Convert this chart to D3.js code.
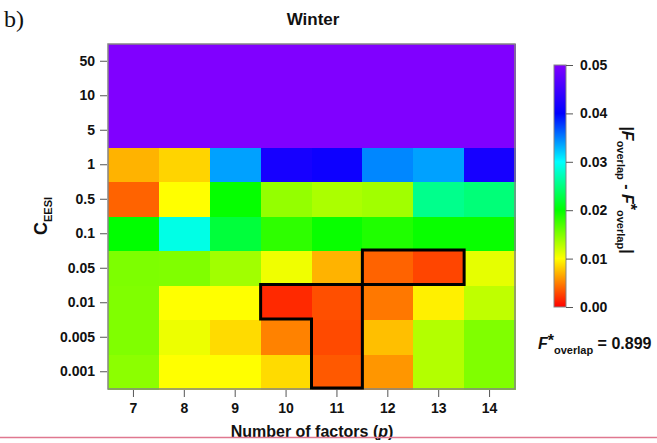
<!DOCTYPE html>
<html>
<head>
<meta charset="utf-8">
<script src="https://cdn.jsdelivr.net/npm/d3@7"></script>
<style>
  body { margin: 0; background: #fff; }
  svg { display: block; }
  text { font-family: "Liberation Sans", Arial, sans-serif; font-weight: bold; fill: #111; }
</style>
</head>
<body>
<svg id="chart" width="657" height="443"></svg>
<script>
"use strict";

// number of factors (columns) and C_EESI levels (rows, top to bottom)
const factors = ["7", "8", "9", "10", "11", "12", "13", "14"];
const cLevels = ["50", "10", "5", "1", "0.5", "0.1", "0.05", "0.01", "0.005", "0.001"];

// |F_overlap - F*_overlap|, one row per C_EESI level
const row50    = [0.050, 0.050, 0.050, 0.050, 0.050, 0.050, 0.050, 0.050];
const row10    = [0.050, 0.050, 0.050, 0.050, 0.050, 0.050, 0.050, 0.050];
const row5     = [0.050, 0.050, 0.050, 0.050, 0.050, 0.050, 0.050, 0.050];
const row1     = [0.0070, 0.0083, 0.0337, 0.0417, 0.0410, 0.0347, 0.0337, 0.0417];
const row05    = [0.0039, 0.0100, 0.0198, 0.0142, 0.0133, 0.0137, 0.0255, 0.0247];
const row01    = [0.0200, 0.0290, 0.0223, 0.0182, 0.0197, 0.0188, 0.0197, 0.0197];
const row005   = [0.0151, 0.0150, 0.0137, 0.0106, 0.0070, 0.0039, 0.0027, 0.0110];
const row001   = [0.0150, 0.0100, 0.0100, 0.0016, 0.0031, 0.0047, 0.0094, 0.0125];
const row0005  = [0.0150, 0.0107, 0.0086, 0.0051, 0.0029, 0.0075, 0.0130, 0.0150];
const row0001  = [0.0145, 0.0100, 0.0100, 0.0086, 0.0035, 0.0059, 0.0130, 0.0150];
const diffRows = [row50, row10, row5, row1, row05, row01, row005, row001, row0005, row0001];

// outlined cells [factor, C_EESI]
const outlined = [["10", "0.01"], ["11", "0.01"], ["11", "0.005"], ["11", "0.001"],
                  ["12", "0.05"], ["13", "0.05"]];

const colorTicks = [0, 0.01, 0.02, 0.03, 0.04, 0.05];
const colorStops = ["#ff0000", "#ffff00", "#00ff00", "#00ffff", "#0000ff", "#8000ff"];
const fStar = "0.899";

const svg = d3.select("#chart");

const x = d3.scaleBand().domain(factors).range([108, 515]);
const y = d3.scaleBand().domain(cLevels).range([44, 389]);
const color = d3.scaleLinear().domain(colorTicks).range(colorStops).clamp(true);

// cells
let cells = [];
diffRows.forEach((vals, i) => {
    vals.forEach((v, j) => cells.push({ f: factors[j], c: cLevels[i], v: v }));
});
svg.append("g").attr("shape-rendering", "crispEdges").selectAll("rect")
    .data(cells)
    .join("rect")
    .attr("x", d => x(d.f))
    .attr("y", d => y(d.c))
    .attr("width", x.bandwidth() + 1)
    .attr("height", y.bandwidth() + 1)
    .attr("fill", d => color(d.v));

// frame
svg.append("rect")
    .attr("x", 108).attr("y", 44)
    .attr("width", 407).attr("height", 345)
    .attr("fill", "none").attr("stroke", "#858585").attr("stroke-width", 1.5);

// outline of selected cells: draw only edges not shared with another selected cell
const key = (fi, ci) => fi + "_" + ci;
const sel = new Set(outlined.map(d => key(factors.indexOf(d[0]), cLevels.indexOf(d[1]))));
let pathStr = "";
outlined.forEach(d => {
    const fi = factors.indexOf(d[0]), ci = cLevels.indexOf(d[1]);
    const x0 = x(d[0]), x1 = x0 + x.bandwidth();
    const y0 = y(d[1]), y1 = y0 + y.bandwidth();
    if (!sel.has(key(fi, ci - 1))) pathStr += `M${x0},${y0}L${x1},${y0}`;
    if (!sel.has(key(fi, ci + 1))) pathStr += `M${x0},${y1}L${x1},${y1}`;
    if (!sel.has(key(fi - 1, ci))) pathStr += `M${x0},${y0}L${x0},${y1}`;
    if (!sel.has(key(fi + 1, ci))) pathStr += `M${x1},${y0}L${x1},${y1}`;
});
svg.append("path")
    .attr("d", pathStr)
    .attr("transform", "translate(0,-1)")
    .attr("fill", "none")
    .attr("stroke", "#000")
    .attr("stroke-width", 3)
    .attr("stroke-linecap", "square");

// axes
const yAxis = svg.append("g")
    .attr("transform", "translate(107,0)")
    .call(d3.axisLeft(y).tickSize(7).tickPadding(5));
const xAxis = svg.append("g")
    .attr("transform", "translate(0,390)")
    .call(d3.axisBottom(x).tickSize(7).tickPadding(6));
[xAxis, yAxis].forEach(a => {
    a.select(".domain").remove();
    a.selectAll(".tick line").attr("stroke", "#555");
    a.selectAll(".tick text").style("font-size", "14px")
        .style("font-family", "Liberation Sans, Arial, sans-serif").style("font-weight", "bold").attr("fill", "#111");
});

// titles
svg.append("text").attr("x", 4).attr("y", 27)
    .style("font-family", "Liberation Serif, Times New Roman, serif").style("font-weight", "normal")
    .style("font-size", "24px").text("b)");
svg.append("text").attr("x", 313).attr("y", 25)
    .attr("text-anchor", "middle").style("font-size", "17px").text("Winter");

const xt = svg.append("text").attr("x", 312).attr("y", 437)
    .attr("text-anchor", "middle").style("font-size", "16px");
xt.append("tspan").text("Number of factors (");
xt.append("tspan").style("font-style", "italic").text("p");
xt.append("tspan").text(")");

const yt = svg.append("text")
    .attr("transform", "translate(47,216) rotate(-90)")
    .attr("text-anchor", "middle").style("font-size", "18px");
yt.append("tspan").text("C");
yt.append("tspan").attr("dy", 5).style("font-size", "11px").text("EESI");

// colour bar
const cb = d3.scaleLinear().domain([0, 0.05]).range([307, 65]);
const defs = svg.append("defs");
const grad = defs.append("linearGradient").attr("id", "cbar")
    .attr("x1", 0).attr("y1", 1).attr("x2", 0).attr("y2", 0);
colorTicks.forEach((t, i) => {
    grad.append("stop").attr("offset", t / 0.05).attr("stop-color", colorStops[i]);
});
svg.append("rect")
    .attr("x", 554).attr("y", 65).attr("width", 12).attr("height", 242)
    .attr("fill", "url(#cbar)").attr("stroke", "#858585").attr("stroke-width", 1);
const cAxis = svg.append("g").attr("transform", "translate(566,0)")
    .call(d3.axisRight(cb).tickValues(colorTicks).tickFormat(d3.format(".2f")).tickSize(7).tickPadding(7));
cAxis.select(".domain").remove();
cAxis.selectAll(".tick line").attr("stroke", "#555");
cAxis.selectAll(".tick text").style("font-size", "14px")
    .style("font-family", "Liberation Sans, Arial, sans-serif").style("font-weight", "bold").attr("fill", "#111");

const ct = svg.append("text")
    .attr("transform", "translate(622,190) rotate(90)")
    .attr("text-anchor", "middle").style("font-size", "16px");
ct.append("tspan").text("|");
ct.append("tspan").style("font-style", "italic").text("F");
ct.append("tspan").attr("dy", 5).style("font-size", "11px").text("overlap");
ct.append("tspan").attr("dy", -5).text(" - ");
ct.append("tspan").style("font-style", "italic").text("F");
ct.append("tspan").attr("dy", -3).text("*");
ct.append("tspan").attr("dy", 8).style("font-size", "11px").text("overlap");
ct.append("tspan").attr("dy", -5).text("|");

const ft = svg.append("text").attr("x", 538).attr("y", 349).style("font-size", "16px");
ft.append("tspan").style("font-style", "italic").text("F");
ft.append("tspan").attr("dy", -3).text("*");
ft.append("tspan").attr("dy", 8).style("font-size", "11px").text("overlap");
ft.append("tspan").attr("dy", -5).text(" = " + fStar);

// page rule at the bottom
svg.append("line").attr("x1", 0).attr("x2", 657).attr("y1", 437.5).attr("y2", 437.5)
    .attr("stroke", "#e07890").attr("stroke-width", 1.5);
</script>
</body>
</html>
